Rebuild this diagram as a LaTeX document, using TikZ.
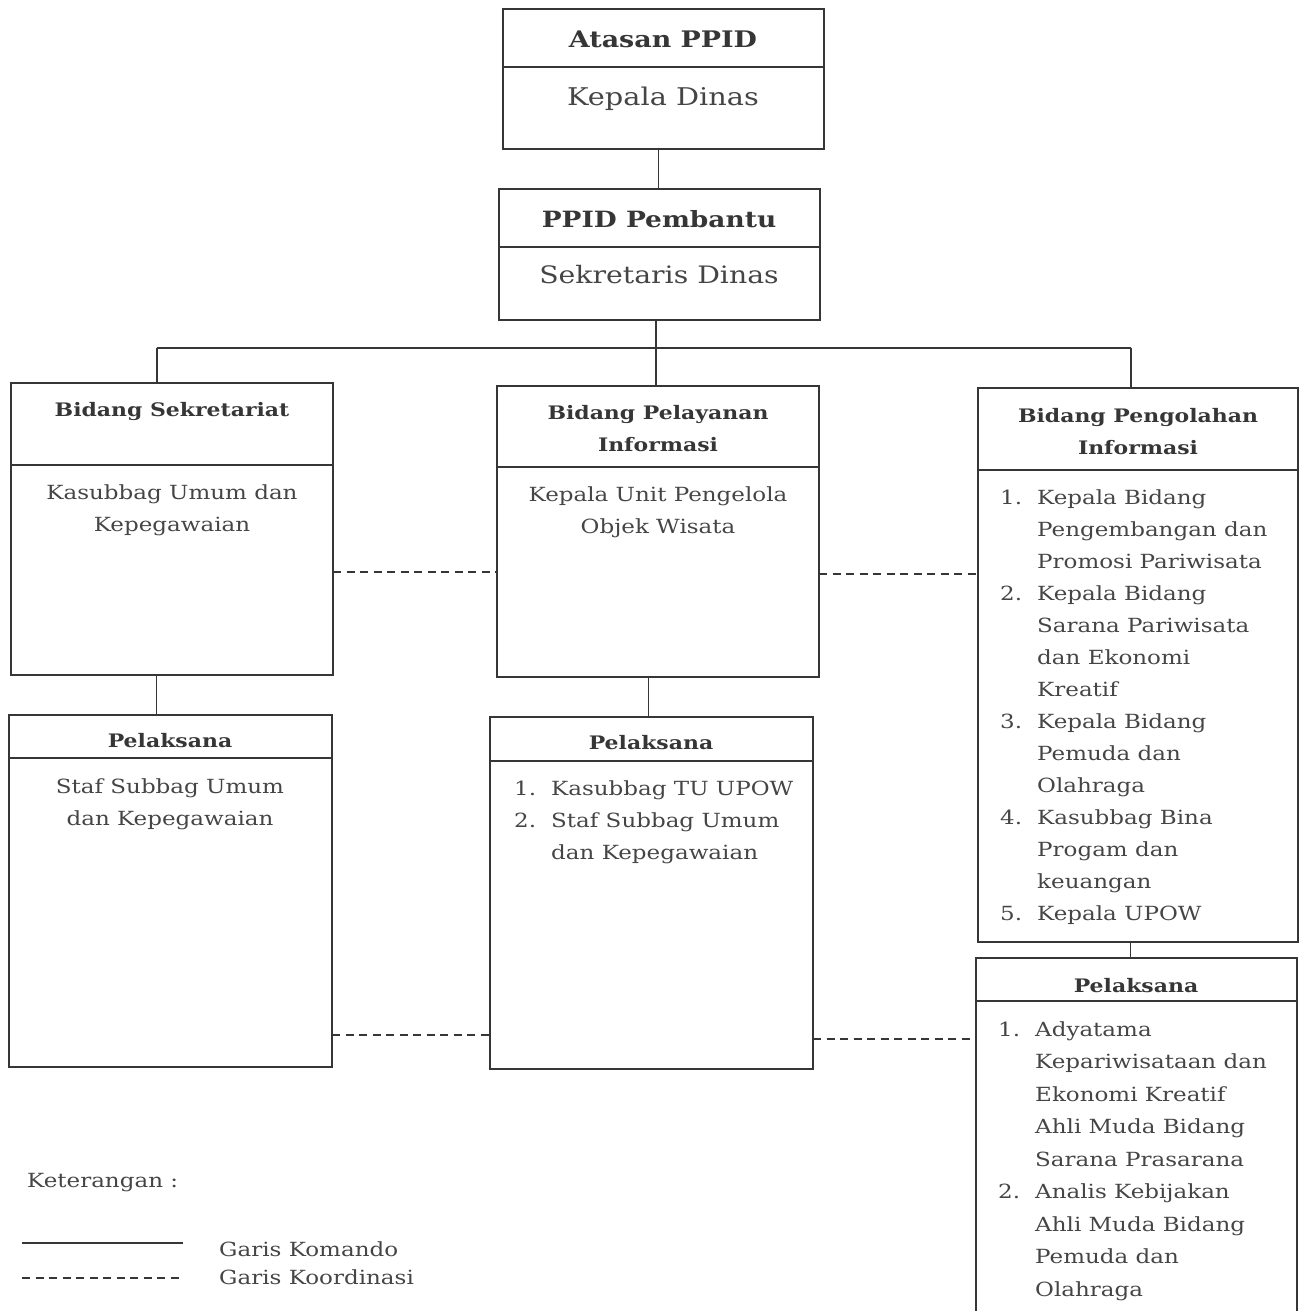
\documentclass[tikz,border=0pt]{standalone}
\usepackage{fontspec}
\setmainfont{DejaVu Serif}[FakeStretch=1.18]
\usetikzlibrary{positioning}
\definecolor{ink}{HTML}{363636}
\definecolor{tx}{HTML}{454545}
\newcommand{\nr}[1]{\makebox[37pt][l]{#1}}
\newcommand{\ind}{\hspace*{37pt}}
\begin{document}
\begin{tikzpicture}[
x=1pt, y=-1pt,
box/.style={
  draw=ink,
  line width=1.8pt,
  inner sep=0pt,
  outer sep=0pt,
  anchor=north west
  },
ttl/.style={
  font=\bfseries\fontsize{18.6}{32}\selectfont,
  text=ink,
  align=center,
  anchor=base,
  inner sep=0pt
  },
txt/.style={
  font=\fontsize{19.5}{32}\selectfont,
  text=tx,
  align=center,
  anchor=base,
  inner sep=0pt
  },
lst/.style={
  txt,
  align=left,
  anchor=base west
  },
komando/.style={draw=ink, line width=1.8pt},
koord/.style={komando, line width=1.6pt, dash pattern=on 8pt off 5.5pt}
]
\useasboundingbox (0,0) rectangle (1299,1311);

% boxes
\node[box, minimum width=321pt, minimum height=58pt] (atasanH) at (503,9) {};
\node[box, minimum width=321pt, minimum height=82pt, at=(atasanH.south west)] (atasanB) {};
\node[box, minimum width=321pt, minimum height=58pt] (pembantuH) at (499,189) {};
\node[box, minimum width=321pt, minimum height=73pt, at=(pembantuH.south west)] (pembantuB) {};
\node[box, minimum width=322pt, minimum height=82pt] (sekretH) at (11,383) {};
\node[box, minimum width=322pt, minimum height=210pt, at=(sekretH.south west)] (sekretB) {};
\node[box, minimum width=322pt, minimum height=81pt] (pelayananH) at (497,386) {};
\node[box, minimum width=322pt, minimum height=210pt, at=(pelayananH.south west)] (pelayananB) {};
\node[box, minimum width=320pt, minimum height=82pt] (olahH) at (978,388) {};
\node[box, minimum width=320pt, minimum height=472pt, at=(olahH.south west)] (olahB) {};
\node[box, minimum width=323pt, minimum height=43pt] (pelakLH) at (9,715) {};
\node[box, minimum width=323pt, minimum height=309pt, at=(pelakLH.south west)] (pelakLB) {};
\node[box, minimum width=323pt, minimum height=44pt] (pelakMH) at (490,717) {};
\node[box, minimum width=323pt, minimum height=308pt, at=(pelakMH.south west)] (pelakMB) {};
\node[box, minimum width=321pt, minimum height=43pt] (pelakRH) at (976,958) {};
\node[box, minimum width=321pt, minimum height=330pt, at=(pelakRH.south west)] (pelakRB) {};

% texts (multi-line nodes sit on their last baseline)
\node[ttl, font=\bfseries\fontsize{22.8}{32}\selectfont] (atasanT) at (663,48) {Atasan PPID};
\node[txt, font=\fontsize{24.4}{32}\selectfont] (atasanN) at (663,106) {Kepala Dinas};
\node[ttl, font=\bfseries\fontsize{22.4}{32}\selectfont] (pembantuT) at (659,227) {PPID Pembantu};
\node[txt, font=\fontsize{24}{32}\selectfont] (pembantuN) at (659,283) {Sekretaris Dinas};
\node[ttl] (sekretT) at (172,416) {Bidang Sekretariat};
\node[txt] (sekretN) at (172,531) {Kasubbag Umum dan\\Kepegawaian};
\node[ttl] (pelayananT) at (658,451) {Bidang Pelayanan\\Informasi};
\node[txt] (pelayananN) at (658,533) {Kepala Unit Pengelola\\Objek Wisata};
\node[ttl] (olahT) at (1138,454) {Bidang Pengolahan\\Informasi};
\node[lst] (olahN) at (1000,920) {\nr{1.}Kepala Bidang\\ \ind Pengembangan dan\\ \ind Promosi Pariwisata\\
  \nr{2.}Kepala Bidang\\ \ind Sarana Pariwisata\\ \ind dan Ekonomi\\ \ind Kreatif\\
  \nr{3.}Kepala Bidang\\ \ind Pemuda dan\\ \ind Olahraga\\
  \nr{4.}Kasubbag Bina\\ \ind Progam dan\\ \ind keuangan\\
  \nr{5.}Kepala UPOW};
\node[ttl] (pelakLT) at (170,747) {Pelaksana};
\node[txt] (pelakLN) at (170,825) {Staf Subbag Umum\\dan Kepegawaian};
\node[ttl] (pelakMT) at (651,749) {Pelaksana};
\node[lst] (pelakMN) at (514,859) {\nr{1.}Kasubbag TU UPOW\\ \nr{2.}Staf Subbag Umum\\ \ind dan Kepegawaian};
\node[ttl] (pelakRT) at (1136,992) {Pelaksana};
\node[lst, font=\fontsize{19.5}{32.5}\selectfont] (pelakRN) at (998,1296) {\nr{1.}Adyatama\\ \ind Kepariwisataan dan\\ \ind Ekonomi Kreatif\\
  \ind Ahli Muda Bidang\\ \ind Sarana Prasarana\\
  \nr{2.}Analis Kebijakan\\ \ind Ahli Muda Bidang\\ \ind Pemuda dan\\ \ind Olahraga};

% garis komando
\coordinate (bus) at (656,348);
\coordinate (busL) at (157,348);
\coordinate (busR) at (1131,348);
\draw[komando] ([xshift=-5pt]atasanB.south) -- ([xshift=-5pt]atasanB.south |- pembantuH.north);
\draw[komando] (bus |- pembantuB.south) -- (bus);
\draw[komando] (busL) -- (busR);
\draw[komando] (busL) -- (busL |- sekretH.north);
\draw[komando] (bus) -- (bus |- pelayananH.north);
\draw[komando] (busR) -- (busR |- olahH.north);
\draw[komando] ([xshift=-14pt]pelakLH.north) -- ([xshift=-14pt]pelakLH.north |- sekretB.south);
\draw[komando] ([xshift=-3pt]pelakMH.north) -- ([xshift=-3pt]pelakMH.north |- pelayananB.south);
\draw[komando] ([xshift=-6pt]pelakRH.north) -- ([xshift=-6pt]pelakRH.north |- olahB.south);

% garis koordinasi
\coordinate (k1) at (0,572);
\coordinate (k2) at (0,574);
\coordinate (k3) at (0,1035);
\coordinate (k4) at (0,1039);
\draw[koord] (sekretB.east |- k1) -- (pelayananB.west |- k1);
\draw[koord] (pelayananB.east |- k2) -- (olahB.west |- k2);
\draw[koord] (pelakLB.east |- k3) -- (pelakMB.west |- k3);
\draw[koord] (pelakMB.east |- k4) -- (pelakRB.west |- k4);

% keterangan
\node[txt, anchor=base west] (ket) at (27,1187) {Keterangan :};
\coordinate (solidA) at (22,1243);
\coordinate (solidB) at (183,1243);
\coordinate (dashA) at (22,1278);
\coordinate (dashB) at (183,1278);
\draw[komando] (solidA) -- (solidB);
\draw[koord] (dashA) -- (dashB);
\node[txt, anchor=base west] (komando) at (219,1256) {Garis Komando};
\node[txt, anchor=base west] (koordinasi) at (219,1284) {Garis Koordinasi};
\end{tikzpicture}
\end{document}
